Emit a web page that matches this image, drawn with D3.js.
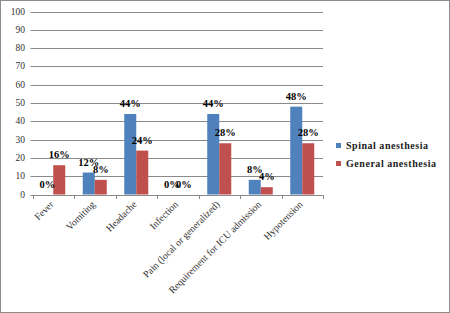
<!DOCTYPE html>
<html><head><meta charset="utf-8">
<script src="https://cdn.jsdelivr.net/npm/d3@7"></script>
<style>body{margin:0;background:#fff}svg{display:block}</style>
</head><body><svg id="c" width="450" height="313"></svg>
<script>
const categories = ["Fever","Vomiting","Headache","Infection","Pain (local or generalized)","Requirement for ICU admission","Hypotension"];
const spinal = [0,12,44,0,44,8,48];
const general = [16,8,24,0,28,4,28];
const seriesNames = ["Spinal anesthesia","General anesthesia"];
const colors = ["#4F81BD","#C0504D"];
const yTicks = [0,10,20,30,40,50,60,70,80,90,100];

const svg = d3.select("#c");
svg.append("rect").attr("x",0.5).attr("y",0.5).attr("width",449).attr("height",312)
  .attr("fill","#fff").attr("stroke","#8c8c8c");

const x = d3.scaleBand().domain(categories).range([32.5,323]);
const y = d3.scaleLinear().domain([0,100]).range([194.5,11.5]);
const xs = d3.scaleBand().domain([0,1]).range([0,24]);

const g = svg.append("g");
g.selectAll("line.grid").data(yTicks).join("line")
  .attr("x1",x.range()[0]-2).attr("x2",x.range()[1]).attr("y1",d=>Math.round(y(d))+0.5).attr("y2",d=>Math.round(y(d))+0.5)
  .attr("stroke","#8a8a8a").attr("stroke-width",1);
g.selectAll("text.yl").data(yTicks).join("text")
  .attr("x",25).attr("y",d=>y(d)+3).attr("text-anchor","end")
  .attr("font-family","Liberation Serif").attr("font-size",9.5).attr("fill","#333").text(d=>d);

const bounds = categories.map(c=>x(c)).concat([x.range()[1]]);
g.selectAll("line.xt").data(bounds).join("line")
  .attr("x1",d=>Math.round(d)+0.5).attr("x2",d=>Math.round(d)+0.5).attr("y1",195).attr("y2",199)
  .attr("stroke","#888");

const data = categories.map((c,i)=>({c, v:[spinal[i],general[i]]}));
const cg = g.selectAll("g.cat").data(data).join("g")
  .attr("transform",d=>`translate(${x(d.c)+(x.bandwidth()-24)/2},0)`);
cg.selectAll("rect").data(d=>d.v).join("rect")
  .attr("x",(d,i)=>xs(i)).attr("width",xs.bandwidth()).attr("y",d=>y(d)).attr("height",d=>y(0)-y(d))
  .attr("fill",(d,i)=>colors[i]);
cg.selectAll("text").data(d=>d.v).join("text")
  .attr("x",(d,i)=>xs(i)+xs.bandwidth()/2).attr("y",d=>y(d)-7).attr("text-anchor","middle")
  .attr("font-family","Liberation Serif").attr("font-weight","bold").attr("font-size",10.5).attr("fill","#000")
  .text(d=>d+"%");

g.selectAll("text.xl").data(categories).join("text")
  .attr("transform",d=>`translate(${x(d)+x.bandwidth()/2+1},${205}) rotate(-45)`)
  .attr("text-anchor","end").attr("font-family","Liberation Serif").attr("font-size",9.8).attr("fill","#333")
  .text(d=>d);

const lg = svg.append("g").attr("transform","translate(336,0)");
const legW = [82,90];
seriesNames.forEach((s,i)=>{
  lg.append("rect").attr("x",0).attr("y",143+i*18).attr("width",5).attr("height",5).attr("fill",colors[i]);
  lg.append("text").attr("x",10).attr("y",149+i*18).attr("font-family","Liberation Serif").attr("font-weight","bold")
    .attr("font-size",10).attr("fill","#222").attr("textLength",legW[i]).attr("lengthAdjust","spacing").text(s);
});
</script></body></html>
